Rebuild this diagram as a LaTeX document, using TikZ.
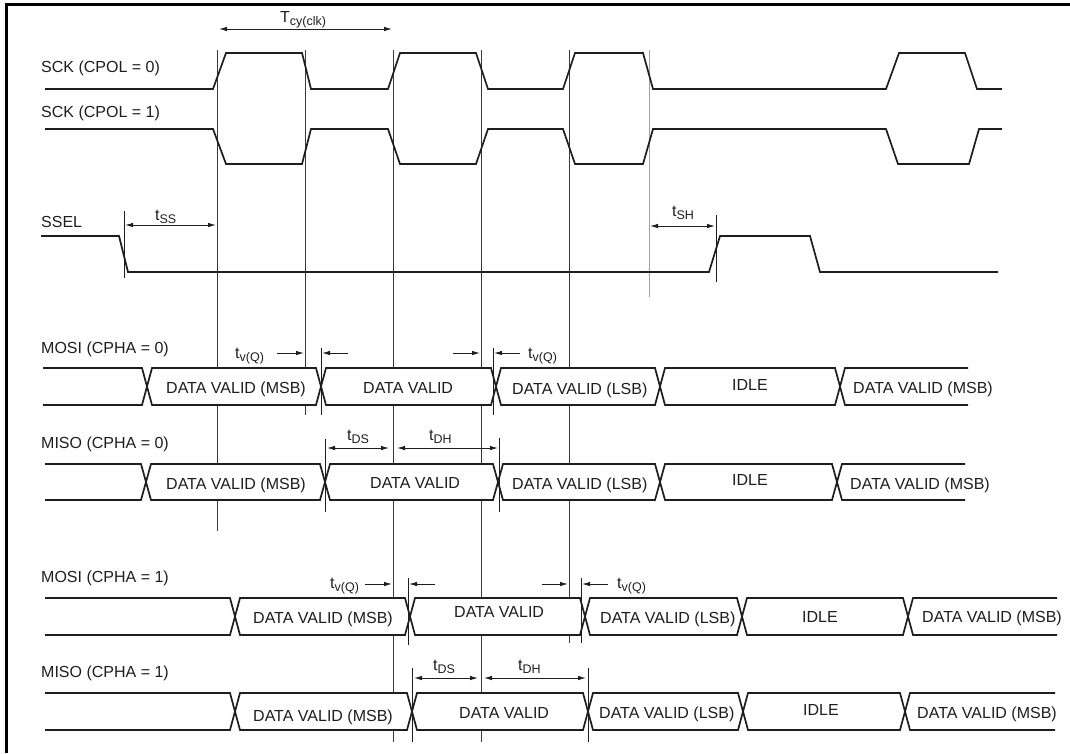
\documentclass[tikz,border=0pt]{standalone}
\usepackage{fontspec}
\setmainfont{Liberation Sans}
\usetikzlibrary{arrows.meta}
\definecolor{spInk}{HTML}{1E1E1E}
\definecolor{spGuide}{HTML}{3A3A3A}
\definecolor{spPale}{HTML}{A0A0A0}
\newcommand{\sigfont}{\fontsize{16}{18}\selectfont}
\newcommand{\tsub}[2]{#1\raisebox{-3pt}{\fontsize{12.5}{14}\selectfont #2}}
\newcommand{\hx}{5}
% bus row: top y, bottom y, start x, five crossings, end x
\newcommand{\busrow}[9]{%
  \fill[white] (#3,#1) rectangle (#9,#2);
  \draw[wave] (#3,#1) -- ({#4-\hx},#1) -- ({#4+\hx},#2) -- ({#5-\hx},#2) -- ({#5+\hx},#1)
    -- ({#6-\hx},#1) -- ({#6+\hx},#2) -- ({#7-\hx},#2) -- ({#7+\hx},#1)
    -- ({#8-\hx},#1) -- ({#8+\hx},#2) -- (#9,#2);
  \draw[wave] (#3,#2) -- ({#4-\hx},#2) -- ({#4+\hx},#1) -- ({#5-\hx},#1) -- ({#5+\hx},#2)
    -- ({#6-\hx},#2) -- ({#6+\hx},#1) -- ({#7-\hx},#1) -- ({#7+\hx},#2)
    -- ({#8-\hx},#2) -- ({#8+\hx},#1) -- (#9,#1);
}
\tikzset{
  wave/.style={draw=spInk, line width=1.7pt, line join=miter},
  guide/.style={draw=spGuide, line width=0.9pt},
  paleguide/.style={guide, draw=spPale},
  tickline/.style={draw=spInk, line width=0.9pt},
  dimboth/.style={{Latex[length=8pt,width=4.5pt]}-{Latex[length=8pt,width=4.5pt]}, line width=0.9pt, draw=spInk},
  dimto/.style={-{Latex[length=8pt,width=4.5pt]}, line width=0.9pt, draw=spInk},
  sig/.style={font=\sigfont, text=spInk, anchor=base west, inner sep=0pt},
  tlbl/.style={sig},
}

\begin{document}
\begin{tikzpicture}[x=1pt, y=-1pt]
  \useasboundingbox (0,0) rectangle (1070,753);
  \draw[line width=3pt, draw=black] (6.5,753) -- (6.5,4) -- (1070,4);

  % clock guides
  \draw[guide] (217,50) -- (217,531);
  \draw[guide] (305,50) -- (305,415);
  \draw[guide] (393,50) -- (393,742);
  \draw[guide] (481,50) -- (481,742);
  \draw[guide] (569,50) -- (569,643);
  \draw[paleguide] (649,50) -- (649,297);

  \node[sig] (sck0) at (41,72)  {SCK (CPOL = 0)};
  \node[sig] (sck1) at (41,117) {SCK (CPOL = 1)};
  \node[sig] (ssel) at (41,227) {SSEL};
  \node[sig] (mosi0) at (41,353) {MOSI (CPHA = 0)};
  \node[sig] (miso0) at (41,448) {MISO (CPHA = 0)};
  \node[sig] (mosi1) at (41,582) {MOSI (CPHA = 1)};
  \node[sig] (miso1) at (41,677) {MISO (CPHA = 1)};

  \draw[wave] (45,89) -- (213,89) -- (226,53) -- (302,53) -- (311,89) -- (388,89) -- (400,53)
    -- (476,53) -- (488,89) -- (563,89) -- (575,53) -- (643,53) -- (653,89) -- (886,89)
    -- (899,53) -- (965,53) -- (977,89) -- (1002,89);
  \draw[wave] (45,129) -- (213,129) -- (226,164) -- (302,164) -- (311,129) -- (388,129) -- (400,164)
    -- (476,164) -- (488,129) -- (563,129) -- (575,164) -- (643,164) -- (653,129) -- (886,129)
    -- (898,164) -- (969,164) -- (979,129) -- (1002,129);
  \draw[wave] (41,236) -- (119,236) -- (128,272) -- (709,272) -- (720,236) -- (810,236)
    -- (820,272) -- (998,272);

  \coordinate (tcyA) at (219,29);  \coordinate (tcyB) at (392,29);
  \coordinate (tssA) at (125,225); \coordinate (tssB) at (216,225);
  \coordinate (tshA) at (650,226); \coordinate (tshB) at (715,226);
  \draw[dimboth] (tcyA) -- (tcyB);
  \draw[dimboth] (tssA) -- (tssB);
  \draw[dimboth] (tshA) -- (tshB);
  \draw[tickline] (124,211) -- (124,278);
  \draw[tickline] (716,215) -- (716,282);
  \node[tlbl] (tcy) at (280,22)  {\tsub{T}{cy(clk)}};
  \node[tlbl] (tss) at (155,220) {\tsub{t}{SS}};
  \node[tlbl] (tsh) at (672,216) {\tsub{t}{SH}};

  \busrow{368}{405}{43}{147}{321}{496}{660}{840}{968}
  \busrow{464}{500}{45}{146}{325}{498}{660}{837}{965}
  \busrow{598}{635}{45}{235}{410}{585}{742}{908}{1057}
  \busrow{693}{730}{45}{235}{412}{588}{743}{905}{1055}

  \node[sig] (d01) at (166,393) {DATA VALID (MSB)};
  \node[sig] (d02) at (363,393) {DATA VALID};
  \node[sig] (d03) at (512,394) {DATA VALID (LSB)};
  \node[sig] (d04) at (732,390) {IDLE};
  \node[sig] (d05) at (853,393) {DATA VALID (MSB)};

  \node[sig] (e01) at (166,489) {DATA VALID (MSB)};
  \node[sig] (e02) at (370,488) {DATA VALID};
  \node[sig] (e03) at (512,489) {DATA VALID (LSB)};
  \node[sig] (e04) at (732,485) {IDLE};
  \node[sig] (e05) at (850,489) {DATA VALID (MSB)};

  \node[sig] (f01) at (253,623) {DATA VALID (MSB)};
  \node[sig] (f02) at (454,617) {DATA VALID};
  \node[sig] (f03) at (600,623) {DATA VALID (LSB)};
  \node[sig] (f04) at (802,622) {IDLE};
  \node[sig] (f05) at (922,622) {DATA VALID (MSB)};

  \node[sig] (g01) at (253,721) {DATA VALID (MSB)};
  \node[sig] (g02) at (459,718) {DATA VALID};
  \node[sig] (g03) at (599,718) {DATA VALID (LSB)};
  \node[sig] (g04) at (803,715) {IDLE};
  \node[sig] (g05) at (917,718) {DATA VALID (MSB)};

  % CPHA = 0 timing
  \draw[tickline] (321,348) -- (321,415);
  \draw[tickline] (493,348) -- (493,415);
  \draw[tickline] (325,439) -- (325,512);
  \draw[tickline] (499,438) -- (499,512);
  \coordinate (va1) at (277,353); \coordinate (vb1) at (304,353);
  \coordinate (va2) at (348,353); \coordinate (vb2) at (322,353);
  \coordinate (va3) at (453,353); \coordinate (vb3) at (480,353);
  \coordinate (va4) at (520,353); \coordinate (vb4) at (494,353);
  \draw[dimto] (va1) -- (vb1);  \draw[dimto] (va2) -- (vb2);
  \draw[dimto] (va3) -- (vb3);  \draw[dimto] (va4) -- (vb4);
  \node[tlbl] (tv1) at (235,358) {\tsub{t}{v(Q)}};
  \node[tlbl] (tv2) at (528,358) {\tsub{t}{v(Q)}};
  \coordinate (dsA) at (327,448); \coordinate (dsB) at (389,448);
  \coordinate (dhA) at (397,448); \coordinate (dhB) at (498,448);
  \draw[dimboth] (dsA) -- (dsB);
  \draw[dimboth] (dhA) -- (dhB);
  \node[tlbl] (tds1) at (347,440) {\tsub{t}{DS}};
  \node[tlbl] (tdh1) at (429,440) {\tsub{t}{DH}};

  % CPHA = 1 timing
  \draw[tickline] (408,578) -- (408,645);
  \draw[tickline] (581,578) -- (581,643);
  \draw[tickline] (412,668) -- (412,742);
  \draw[tickline] (588,668) -- (588,742);
  \coordinate (wa1) at (365,584); \coordinate (wb1) at (392,584);
  \coordinate (wa2) at (435,584); \coordinate (wb2) at (409,584);
  \coordinate (wa3) at (542,584); \coordinate (wb3) at (568,584);
  \coordinate (wa4) at (608,584); \coordinate (wb4) at (582,584);
  \draw[dimto] (wa1) -- (wb1);  \draw[dimto] (wa2) -- (wb2);
  \draw[dimto] (wa3) -- (wb3);  \draw[dimto] (wa4) -- (wb4);
  \node[tlbl] (tv3) at (330,588) {\tsub{t}{v(Q)}};
  \node[tlbl] (tv4) at (617,588) {\tsub{t}{v(Q)}};
  \coordinate (ds2A) at (414,678); \coordinate (ds2B) at (478,678);
  \coordinate (dh2A) at (484,678); \coordinate (dh2B) at (586,678);
  \draw[dimboth] (ds2A) -- (ds2B);
  \draw[dimboth] (dh2A) -- (dh2B);
  \node[tlbl] (tds2) at (433,670) {\tsub{t}{DS}};
  \node[tlbl] (tdh2) at (518,670) {\tsub{t}{DH}};
\end{tikzpicture}
\end{document}
